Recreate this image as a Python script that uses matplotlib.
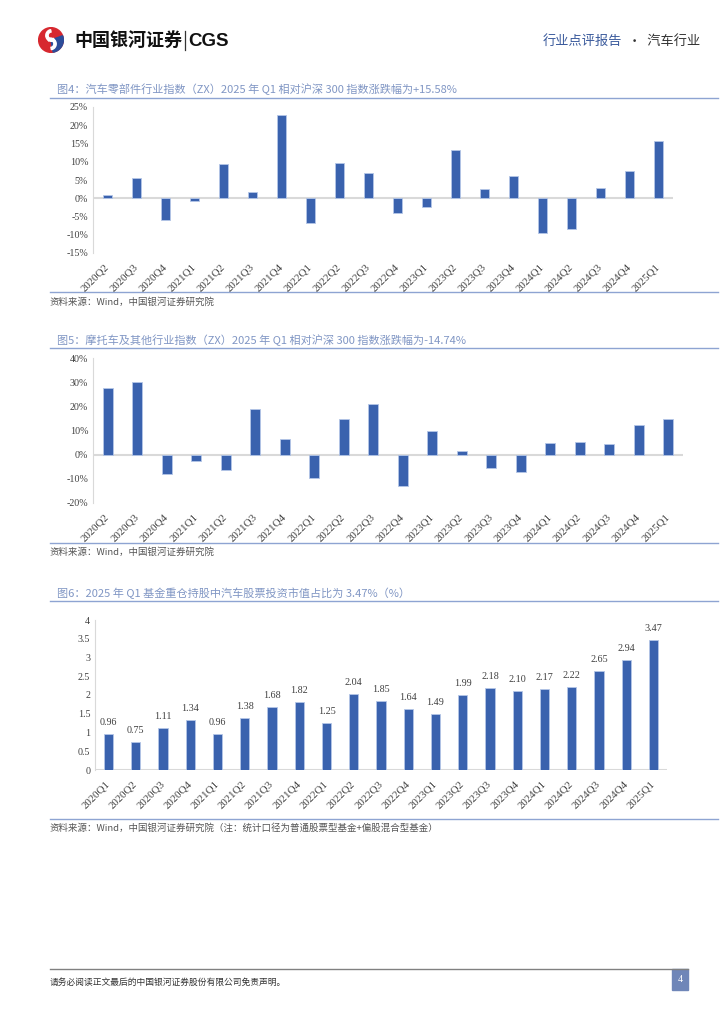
import numpy as np
import matplotlib
matplotlib.use('Agg')
import matplotlib.pyplot as plt
from matplotlib.lines import Line2D
from matplotlib.patches import Circle, Wedge, Rectangle

plt.rcParams['font.family'] = ['Noto Sans CJK SC', 'DejaVu Sans']

# data
quarters_a = ['2020Q2', '2020Q3', '2020Q4', '2021Q1', '2021Q2', '2021Q3', '2021Q4',
              '2022Q1', '2022Q2', '2022Q3', '2022Q4', '2023Q1', '2023Q2', '2023Q3',
              '2023Q4', '2024Q1', '2024Q2', '2024Q3', '2024Q4', '2025Q1']
parts_excess = [0.9, 5.6, -5.9, -0.8, 9.4, 1.6, 22.8, -6.9, 9.7, 7.0,
                -4.1, -2.3, 13.2, 2.6, 6.2, -9.4, -8.4, 2.9, 7.5, 15.58]
moto_excess = [27.6, 30.0, -8.1, -2.6, -6.5, 19.0, 6.3, -9.5, 14.6, 20.9,
               -12.9, 9.9, 1.4, -5.4, -7.3, 4.7, 5.4, 4.3, 12.1, 14.74]
quarters_b = ['2020Q1'] + quarters_a
fund_share = [0.96, 0.75, 1.11, 1.34, 0.96, 1.38, 1.68, 1.82, 1.25, 2.04, 1.85,
              1.64, 1.49, 1.99, 2.18, 2.10, 2.17, 2.22, 2.65, 2.94, 3.47]

titles = ['图4：汽车零部件行业指数（ZX）2025 年 Q1 相对沪深 300 指数涨跌幅为+15.58%',
          '图5：摩托车及其他行业指数（ZX）2025 年 Q1 相对沪深 300 指数涨跌幅为-14.74%',
          '图6：2025 年 Q1 基金重仓持股中汽车股票投资市值占比为 3.47%（%）']
sources = ['资料来源：Wind，中国银河证券研究院',
           '资料来源：Wind，中国银河证券研究院',
           '资料来源：Wind，中国银河证券研究院（注：统计口径为普通股票型基金+偏股混合型基金）']

W, H = 724, 1024
BAR = '#3a62ae'
EDGE = '#b4c6e7'
TITLE_C = '#8096c4'
RULE_C = '#8ea4d2'
TICK_C = '#404040'
SERIF = ['Liberation Serif', 'DejaVu Serif']

fig = plt.figure(figsize=(W / 100, H / 100), dpi=100)


def px_axes(l, t, r, b):
    return fig.add_axes([l / W, 1 - b / H, (r - l) / W, (b - t) / H])


def ftext(x, y, s, **kw):
    return fig.text(x / W, 1 - y / H, s, **kw)


def rule(y, x0, x1, color=RULE_C, lw=1.0):
    fig.add_artist(Line2D([x0 / W, x1 / W], [1 - y / H] * 2, color=color, lw=lw))


def section(title, ty, ly, by, source, sy):
    ftext(57, ty, title, fontsize=8, color=TITLE_C, va='center')
    rule(ly, 50, 718)
    rule(by, 50, 718)
    ftext(50, sy, source, fontsize=6.8, color='#555555', va='center', style='italic')


def style_axes(ax, labels):
    for s in ['top', 'right', 'bottom']:
        ax.spines[s].set_visible(False)
    ax.spines['left'].set_color('#d9d9d9')
    ax.tick_params(length=0, labelsize=7.2, colors=TICK_C)
    ax.set_xticks(range(len(labels)))
    ax.set_xticklabels(labels, rotation=45, ha='right', va='center',
                       rotation_mode='anchor', fontsize=7.8, family=SERIF)
    ax.tick_params(axis='x', pad=9)
    for t in ax.get_yticklabels():
        t.set_family(SERIF)
    ax.set_xlim(-0.5, len(labels) - 0.5)


# header
lax = px_axes(38, 27, 64, 53)
lax.set_xlim(-1, 1)
lax.set_ylim(-1, 1)
lax.set_aspect('equal')
lax.axis('off')
lax.add_patch(Circle((0, 0), 0.95, color='#d7282f'))
lax.add_patch(Wedge((0, 0), 0.95, -80, 20, color='#2c4d9a'))
lax.add_patch(Wedge((0.05, 0.35), 0.45, 100, 300, width=0.18, color='white'))
lax.add_patch(Wedge((-0.05, -0.3), 0.45, -80, 120, width=0.18, color='white'))
ftext(74, 40, '中国银河证券', fontsize=13, fontweight='bold', color='#111111', va='center')
fig.add_artist(Line2D([185 / W] * 2, [1 - 31 / H, 1 - 50 / H], color='#333333', lw=0.9))
ftext(188, 41, 'CGS', fontsize=13.5, fontweight='bold', color='#111111', va='center',
      family=['Liberation Sans', 'DejaVu Sans'])
ftext(543, 41, '行业点评报告', fontsize=9.5, color='#3a5a9c', va='center')
ftext(628, 41, '·  汽车行业', fontsize=9.5, color='#333333', va='center')

# chart 4
section(titles[0], 89, 98, 292, sources[0], 302)
ax1 = px_axes(93, 107, 673, 253)
x = np.arange(len(quarters_a))
ax1.bar(x, parts_excess, width=0.34, color=BAR, edgecolor=EDGE, linewidth=0.6, zorder=3)
ax1.axhline(0, color='#d9d9d9', lw=1.5, zorder=2)
ax1.set_ylim(-15, 25)
ax1.set_yticks(range(-15, 26, 5))
ax1.set_yticklabels([f'{v}%' for v in range(-15, 26, 5)])
style_axes(ax1, quarters_a)

# chart 5
section(titles[1], 340, 348, 543, sources[1], 552)
ax2 = px_axes(93, 358, 683, 503)
ax2.bar(x, moto_excess, width=0.34, color=BAR, edgecolor=EDGE, linewidth=0.6, zorder=3)
ax2.axhline(0, color='#d9d9d9', lw=1.5, zorder=2)
ax2.set_ylim(-20, 40)
ax2.set_yticks(range(-20, 41, 10))
ax2.set_yticklabels([f'{v}%' for v in range(-20, 41, 10)])
style_axes(ax2, quarters_a)

# chart 6
section(titles[2], 593, 601, 819, sources[2], 828)
ax3 = px_axes(95, 620, 667, 770)
x3 = np.arange(len(quarters_b))
ax3.bar(x3, fund_share, width=0.34, color=BAR, edgecolor=EDGE, linewidth=0.6, zorder=3)
ax3.axhline(0, color='#d9d9d9', lw=1.5, zorder=2)
ax3.set_ylim(0, 4)
yt = np.arange(0, 4.01, 0.5)
ax3.set_yticks(yt)
ax3.set_yticklabels([f'{v:g}' for v in yt])
style_axes(ax3, quarters_b)
for xi, v in zip(x3, fund_share):
    ax3.annotate(f'{v:.2f}', (xi, v), xytext=(0, 5), textcoords='offset points',
                 ha='center', va='bottom', fontsize=7.3, color=TICK_C, family=SERIF)

# footer
rule(969, 50, 688, color='#808080', lw=1.0)
ftext(50, 982, '请务必阅读正文最后的中国银河证券股份有限公司免责声明。', fontsize=6.3,
      color='#333333', va='center')
fig.add_artist(Rectangle((672 / W, 1 - 990 / H), 16 / W, 21 / H, color='#6f86b8',
                         transform=fig.transFigure))
ftext(680, 980, '4', fontsize=7, color='white', ha='center', va='center', family=SERIF)

fig.savefig('out.png', dpi=100)
